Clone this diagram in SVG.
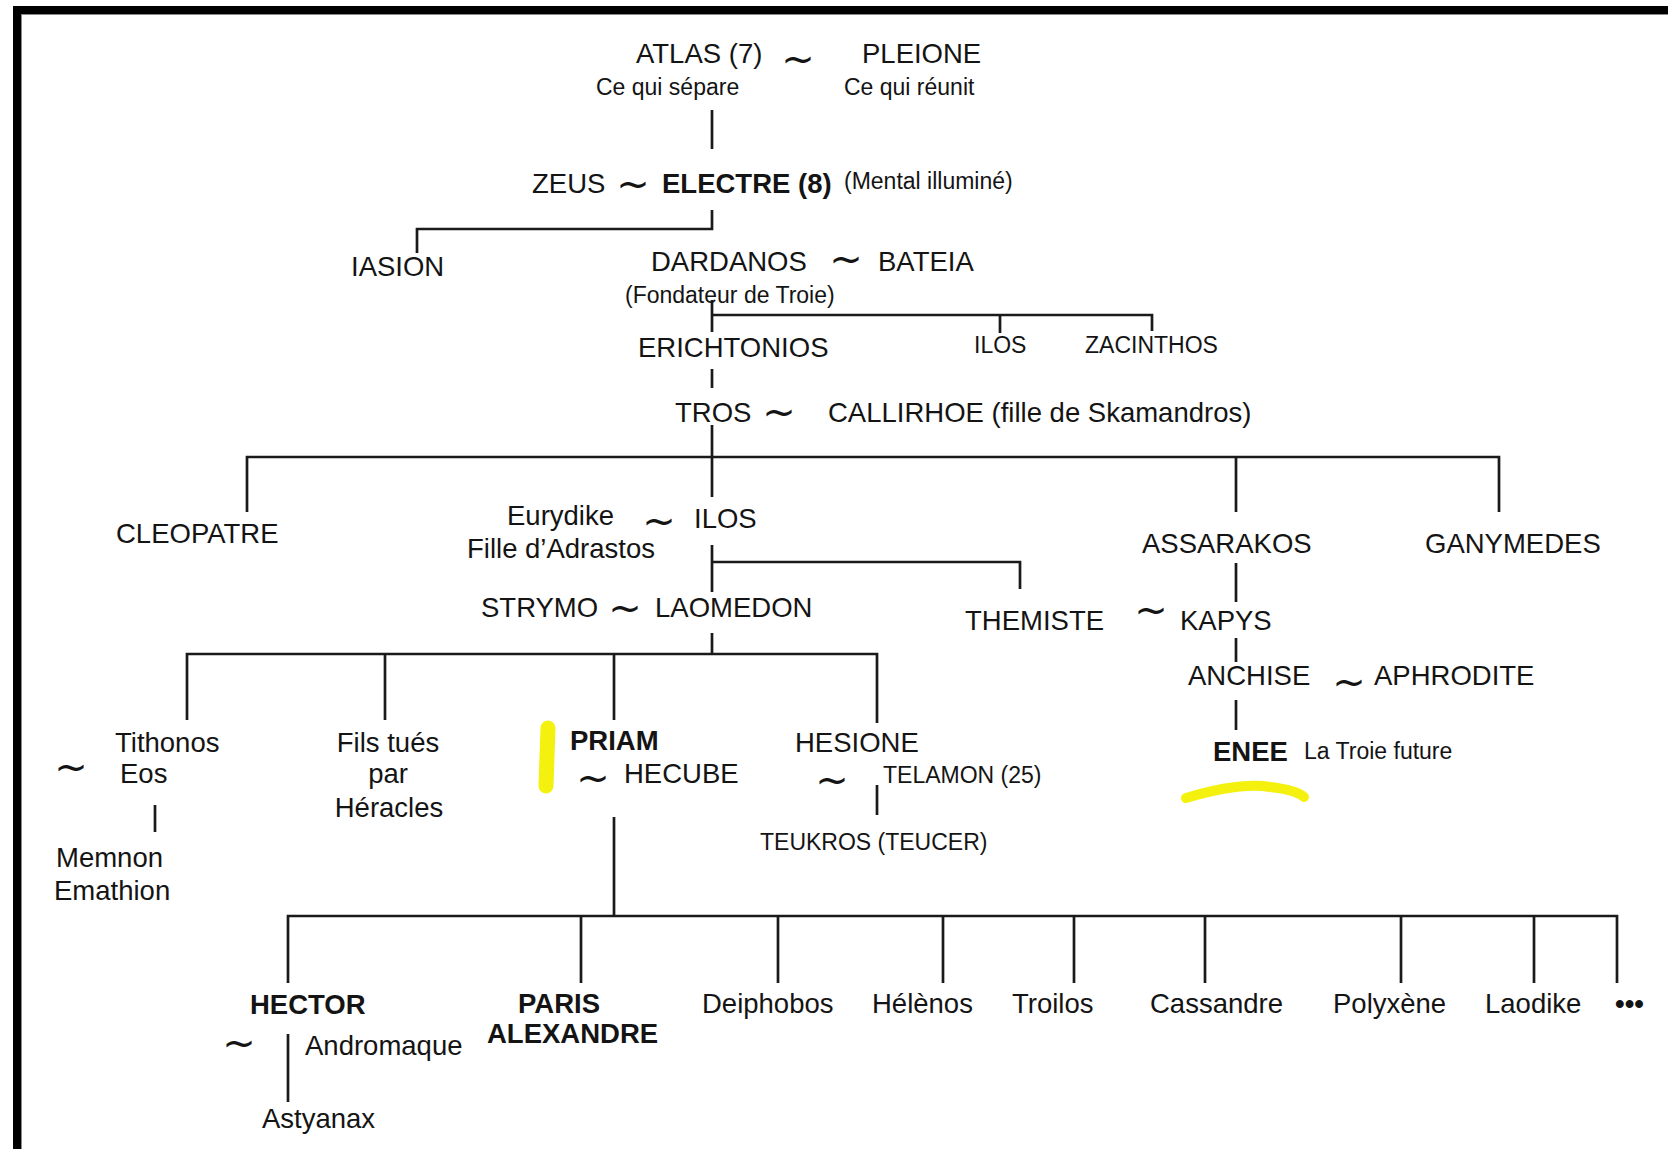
<svg xmlns="http://www.w3.org/2000/svg" width="1668" height="1149" viewBox="0 0 1668 1149">
<style>
text{font-family:"Liberation Sans",Arial,sans-serif;fill:#141414}
.L{font-size:27.5px}
.B{font-size:27.5px;font-weight:bold}
.S{font-size:23px}
.T{font-family:"DejaVu Sans",sans-serif;font-size:40px;text-anchor:middle}
.c{text-anchor:middle}
.ln{stroke:#1a1a1a;stroke-width:2.7;fill:none;stroke-linecap:butt}
.hl{stroke:#f2f000;fill:none;stroke-linecap:round;opacity:0.95}
</style>
<rect x="0" y="0" width="1668" height="1149" fill="#ffffff"/>
<g id="frame">
<rect x="13" y="6" width="1655" height="8" fill="#000"/>
<rect x="13" y="6" width="8" height="1143" fill="#000"/>
<line x1="21" y1="14.5" x2="1668" y2="14.5" stroke="#8a8a8a" stroke-width="1"/>
<line x1="21.5" y1="14" x2="21.5" y2="1149" stroke="#8a8a8a" stroke-width="1"/>
</g>
<g id="highlights">
<path class="hl" d="M548,728 L546,786" stroke-width="15"/>
<path class="hl" d="M1186,798 Q1240,782 1270,787 Q1296,790 1304,797" stroke-width="10"/>
</g>
<g id="connectors">
<path class="ln" d="M712,110 V149"/>
<path class="ln" d="M712,210 V229 H417 V253"/>
<path class="ln" d="M712,300 V332 M712,315 H1152 V331 M1000,315 V333"/>
<path class="ln" d="M712,369 V388"/>
<path class="ln" d="M712,425 V497 M247,512 V457 H1499 V512 M1236,457 V512"/>
<path class="ln" d="M712,545 V592 M712,562 H1020 V589"/>
<path class="ln" d="M1236,563 V602 M1236,638 V662 M1236,700 V730"/>
<path class="ln" d="M712,633 V654 M187,720 V654 H877 V723 M385,654 V720 M614,654 V720"/>
<path class="ln" d="M155,805 V832"/>
<path class="ln" d="M877,785 V815"/>
<path class="ln" d="M614,817 V916 M288,983 V916 H1617 V983 M581,916 V983 M778,916 V983 M943,916 V983 M1074,916 V983 M1205,916 V983 M1401,916 V983 M1534,916 V983"/>
<path class="ln" d="M288,1034 V1102"/>
</g>
<g id="atlas"><text class="L" x="636" y="63">ATLAS (7)</text><text class="S" x="596" y="95">Ce qui sépare</text></g>
<g id="pleione"><text class="L" x="862" y="63">PLEIONE</text><text class="S" x="844" y="95">Ce qui réunit</text></g>
<text class="T" x="798" y="73">~</text>
<g id="zeus"><text class="L" x="532" y="193">ZEUS</text></g>
<text class="T" x="633" y="198">~</text>
<g id="electre"><text class="B" x="662" y="193">ELECTRE (8)</text><text class="S" x="844" y="189">(Mental illuminé)</text></g>
<g id="iasion"><text class="L" x="351" y="276">IASION</text></g>
<g id="dardanos"><text class="L" x="651" y="271">DARDANOS</text><text class="S" x="625" y="303">(Fondateur de Troie)</text></g>
<text class="T" x="846" y="273">~</text>
<g id="bateia"><text class="L" x="878" y="271">BATEIA</text></g>
<g id="erichtonios"><text class="L" x="638" y="357">ERICHTONIOS</text></g>
<g id="ilos1"><text class="S" x="974" y="353">ILOS</text></g>
<g id="zacinthos"><text class="S" x="1085" y="353">ZACINTHOS</text></g>
<g id="tros"><text class="L" x="675" y="422">TROS</text></g>
<text class="T" x="779" y="426">~</text>
<g id="callirhoe"><text class="L" x="828" y="422">CALLIRHOE (fille de Skamandros)</text></g>
<g id="cleopatre"><text class="L" x="116" y="543">CLEOPATRE</text></g>
<g id="eurydike"><text class="L" x="507" y="525">Eurydike</text><text class="L" x="467" y="558">Fille d’Adrastos</text></g>
<text class="T" x="659" y="535">~</text>
<g id="ilos2"><text class="L" x="694" y="528">ILOS</text></g>
<g id="assarakos"><text class="L" x="1142" y="553">ASSARAKOS</text></g>
<g id="ganymedes"><text class="L" x="1425" y="553">GANYMEDES</text></g>
<g id="strymo"><text class="L" x="481" y="617">STRYMO</text></g>
<text class="T" x="625" y="622">~</text>
<g id="laomedon"><text class="L" x="655" y="617">LAOMEDON</text></g>
<g id="themiste"><text class="L" x="965" y="630">THEMISTE</text></g>
<text class="T" x="1151" y="624">~</text>
<g id="kapys"><text class="L" x="1180" y="630">KAPYS</text></g>
<g id="anchise"><text class="L" x="1188" y="685">ANCHISE</text></g>
<text class="T" x="1349" y="696">~</text>
<g id="aphrodite"><text class="L" x="1374" y="685">APHRODITE</text></g>
<g id="enee"><text class="B" x="1213" y="761">ENEE</text><text class="S" x="1304" y="759">La Troie future</text></g>
<g id="tithonos"><text class="L" x="115" y="752">Tithonos</text><text class="L" x="120" y="783">Eos</text></g>
<text class="T" x="71" y="781">~</text>
<g id="memnon"><text class="L" x="56" y="867">Memnon</text><text class="L" x="54" y="900">Emathion</text></g>
<g id="fils"><text class="L c" x="388" y="752">Fils tués</text><text class="L c" x="388" y="783">par</text><text class="L c" x="389" y="817">Héracles</text></g>
<g id="priam"><text class="B" x="570" y="750">PRIAM</text></g>
<text class="T" x="593" y="792">~</text>
<g id="hecube"><text class="L" x="624" y="783">HECUBE</text></g>
<g id="hesione"><text class="L" x="795" y="752">HESIONE</text></g>
<text class="T" x="832" y="794">~</text>
<g id="telamon"><text class="S" x="883" y="783">TELAMON (25)</text></g>
<g id="teukros"><text class="S" x="760" y="850">TEUKROS (TEUCER)</text></g>
<g id="hector"><text class="B" x="250" y="1014">HECTOR</text></g>
<text class="T" x="239" y="1057">~</text>
<g id="andromaque"><text class="L" x="305" y="1055">Andromaque</text></g>
<g id="astyanax"><text class="L" x="262" y="1128">Astyanax</text></g>
<g id="paris"><text class="B" x="518" y="1013">PARIS</text><text class="B" x="487" y="1043">ALEXANDRE</text></g>
<g id="deiphobos"><text class="L" x="702" y="1013">Deiphobos</text></g>
<g id="helenos"><text class="L" x="872" y="1013">Hélènos</text></g>
<g id="troilos"><text class="L" x="1012" y="1013">Troilos</text></g>
<g id="cassandre"><text class="L" x="1150" y="1013">Cassandre</text></g>
<g id="polyxene"><text class="L" x="1333" y="1013">Polyxène</text></g>
<g id="laodike"><text class="L" x="1485" y="1013">Laodike</text></g>
<g id="more"><text class="B" x="1615" y="1013">•••</text></g>
</svg>
